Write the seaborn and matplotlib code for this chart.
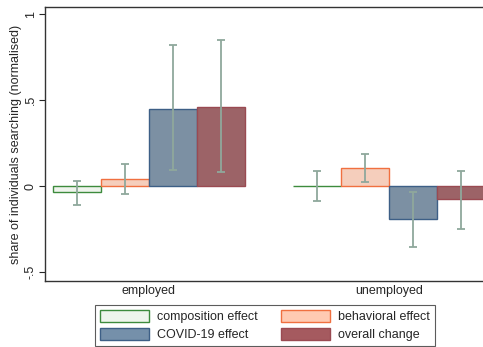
import numpy as np
import pandas as pd
import seaborn as sns
import matplotlib.pyplot as plt
from matplotlib.patches import Patch

# Data
groups = ["employed", "unemployed"]
effects = ["composition effect", "behavioral effect", "COVID-19 effect", "overall change"]

values = {
    "composition effect": [-0.035, 0.0],
    "behavioral effect": [0.04, 0.103],
    "COVID-19 effect": [0.45, -0.194],
    "overall change": [0.46, -0.077],
}
ci_low = {
    "composition effect": [-0.11, -0.085],
    "behavioral effect": [-0.045, 0.025],
    "COVID-19 effect": [0.093, -0.356],
    "overall change": [0.08, -0.248],
}
ci_high = {
    "composition effect": [0.03, 0.085],
    "behavioral effect": [0.13, 0.186],
    "COVID-19 effect": [0.82, -0.037],
    "overall change": [0.85, 0.087],
}

fills = ["#eef5ec", "#ffcab2", "#7590aa", "#a55a5f"]
edges = ["#3d8b3d", "#f07040", "#3d5f86", "#9a4a52"]
err_color = "#8fa89c"

rows = []
for e in effects:
    for i, g in enumerate(groups):
        rows.append({"group": g, "effect": e, "value": values[e][i]})
df = pd.DataFrame(rows)

sns.set_style("white")
plt.rcParams["font.family"] = ["Liberation Sans", "DejaVu Sans"]

fig = plt.figure(figsize=(4.83, 3.47), dpi=100)
ax = fig.add_axes([45 / 483, 1 - 281 / 347, 448 / 483, 274 / 347])

sns.barplot(data=df, x="group", y="value", hue="effect", hue_order=effects,
            order=groups, palette=fills, errorbar=None, width=0.8,
            legend=False, ax=ax)

bar_containers = list(ax.containers)
for k, cont in enumerate(bar_containers):
    e = effects[k]
    for i, bar in enumerate(cont):
        bar.set_edgecolor(edges[k])
        bar.set_linewidth(1.0)
        xc = bar.get_x() + bar.get_width() / 2
        ax.errorbar(xc, values[e][i],
                    yerr=[[values[e][i] - ci_low[e][i]], [ci_high[e][i] - values[e][i]]],
                    fmt="none", ecolor=err_color, elinewidth=1.3, capsize=2.7, capthick=1.3)

ax.set_xlim(-0.4333, 1.4333)
ax.set_ylim(-0.552, 1.041)
ax.set_yticks([-0.5, 0, 0.5, 1])
ax.set_yticklabels(["-.5", "0", ".5", "1"], rotation=90, va="center", fontsize=9)
ax.set_xticks([0, 1])
ax.set_xticklabels(groups, fontsize=9)
ax.tick_params(axis="x", length=0, pad=3)
ax.tick_params(axis="y", length=4, width=0.8, direction="out", pad=2, left=True)
ax.set_xlabel("")
ax.set_ylabel("share of individuals searching (normalised)", fontsize=9, labelpad=2)

for s in ax.spines.values():
    s.set_color("#333333")
    s.set_linewidth(1.0)

handles = [Patch(facecolor=fills[k], edgecolor=edges[k], linewidth=1.0) for k in range(4)]
# order to get row-wise layout: composition, behavioral / COVID, overall
order = [0, 2, 1, 3]
leg = fig.legend([handles[k] for k in order], [effects[k] for k in order],
                 ncol=2, loc="center", bbox_to_anchor=(265 / 483, 1 - 325.5 / 347),
                 fontsize=9, frameon=True, fancybox=False, edgecolor="#333333",
                 handlelength=3.9, handleheight=1.1, columnspacing=1.9,
                 handletextpad=0.65, labelspacing=0.35, borderpad=0.4)
leg.get_frame().set_linewidth(0.8)

fig.savefig("out.png", dpi=100)
